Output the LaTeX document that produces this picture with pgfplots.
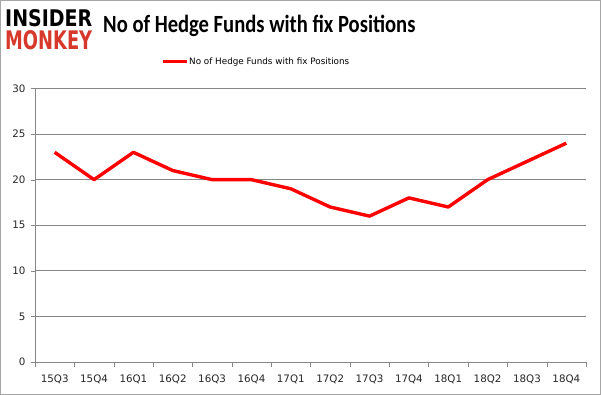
\documentclass[border=0pt]{standalone}
\usepackage{pgfplots}
\pgfplotsset{compat=1.18}
\usepackage{fontspec}
\setmainfont{DejaVu Sans}
\newfontfamily\titlefont{Carlito}
\definecolor{monkeyred}{RGB}{214,57,43}
\definecolor{gridgray}{RGB}{134,134,134}
\begin{document}
\begin{tikzpicture}[x=1pt,y=1pt]
\path[use as bounding box] (0,0) rectangle (601,395);
\draw[gray!70, line width=1pt] (0.5,0.5) rectangle (600.5,394.5);
% logo
\node[anchor=south west, inner sep=0pt] at (5,368) {\resizebox{87pt}{17pt}{\bfseries INSIDER}};
\node[anchor=south west, inner sep=0pt] at (5,345) {\resizebox{87pt}{19pt}{\bfseries\color{monkeyred}MONKEY}};
% title
\node[anchor=west, inner sep=0pt] at (103,369) {\scalebox{1}[1.2]{\titlefont\bfseries\fontsize{20.6}{24}\selectfont No of Hedge Funds with fix Positions}};
% legend
\draw[red, line width=3pt] (163,333) -- (187,333);
\node[anchor=west, inner sep=0pt] at (189,333) {\fontsize{8.8}{10}\selectfont No of Hedge Funds with fix Positions};
\begin{axis}[
  at={(35pt,33pt)}, anchor=south west,
  scale only axis, width=551pt, height=273.5pt,
  xmin=-0.5, xmax=13.5, ymin=0, ymax=30,
  ytick={0,5,...,30},
  xtick={0,...,13},
  xticklabels={15Q3,15Q4,16Q1,16Q2,16Q3,16Q4,17Q1,17Q2,17Q3,17Q4,18Q1,18Q2,18Q3,18Q4},
  minor xtick={-0.5,0.5,...,13.5},
  major x tick style={draw=none},
  minor tick length=5pt,
  major tick length=4pt,
  tick align=outside,
  axis x line*=bottom, axis y line*=left,
  axis line style={gridgray, -},
  tick style={gridgray},
  ymajorgrids, grid style={gridgray, line width=0.7pt},
  /pgf/number format/assume math mode=true,
  ticklabel style={font=\fontsize{10.3}{12}\selectfont, text=black!85},
  xticklabel style={yshift=-5pt},
  yticklabel style={xshift=-2pt},
  clip=false,
]
\addplot[red, line width=3.4pt, line join=round] coordinates {
(0,23) (1,20) (2,23) (3,21) (4,20) (5,20) (6,19) (7,17) (8,16) (9,18) (10,17) (11,20) (12,22) (13,24)};
\end{axis}
\end{tikzpicture}
\end{document}
